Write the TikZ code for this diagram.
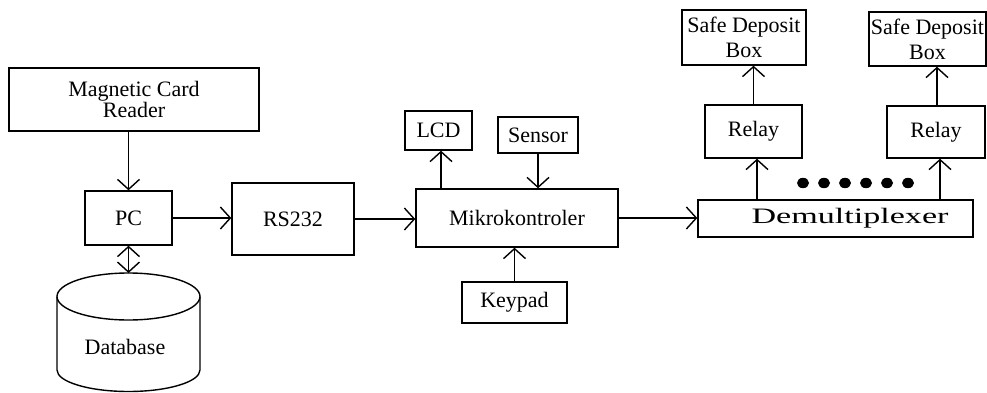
\documentclass[tikz,border=0pt]{standalone}
\usepackage{fontspec}
\usepackage{graphicx}
\setmainfont{Liberation Serif}
\usetikzlibrary{arrows.meta}

\tikzset{
  block/.style={draw, line width=1.4pt, rectangle, inner sep=0pt, align=center,
    font=\fontsize{22}{21.5}\selectfont},
  tallblock/.style={block, font=\fontsize{22}{25}\selectfont},
  link/.style={line width=1.4pt, ->},
  link2/.style={line width=1.4pt, <->},
  >={Straight Barb[length=10pt,width=22pt,line width=1.4pt]}
}

\begin{document}
\begin{tikzpicture}[x=1pt,y=1pt]
  % canvas
  \fill[white] (0,0) rectangle (987,392);
  \useasboundingbox (0,0) rectangle (987,392);

  % blocks
  \node[block, minimum width=250pt, minimum height=63pt] (mcr) at (134,292.5) {Magnetic Card\\Reader};
  \node[block, minimum width=87pt, minimum height=54pt] (pc) at (128.5,174) {PC};
  \node[block, minimum width=122pt, minimum height=72pt] (rs) at (293,173) {RS232};
  \node[block, minimum width=202pt, minimum height=58pt] (mk) at (517,174) {Mikrokontroler};
  \node[block, minimum width=67pt, minimum height=39pt] (lcd) at (438.5,261.5) {LCD};
  \node[block, minimum width=80pt, minimum height=36pt] (sensor) at (538,257) {Sensor};
  \node[block, minimum width=105pt, minimum height=41pt] (keypad) at (514.5,89.5) {Keypad};
  \node[block, minimum width=275pt, minimum height=37pt] (demux) at (835.5,173.5)
    {\hspace*{29pt}\scalebox{1.55}[1]{Demultiplexer}};
  \node[block, minimum width=97pt, minimum height=53pt] (relayA) at (753.5,260.5) {Relay};
  \node[block, minimum width=98pt, minimum height=52pt] (relayB) at (936,260) {Relay};
  \node[tallblock, minimum width=124pt, minimum height=55pt] (boxA) at (744,354.5) {Safe Deposit\\Box};
  \node[tallblock, minimum width=117pt, minimum height=54pt] (boxB) at (927.5,353) {Safe Deposit\\Box};

  % database cylinder
  \draw[line width=1.4pt] (128.5,95.5) ellipse [x radius=71.5pt, y radius=23.5pt];
  \draw[line width=1.4pt] (57,95.5) -- (57,22) arc[start angle=180, end angle=360, x radius=71.5pt, y radius=21.5pt] -- (200,95.5);
  \coordinate (dbtop) at (128.5,119);
  \node[font=\fontsize{22}{21}\selectfont] (db) at (125,45) {Database};

  % connections
  \draw[link] (pc.north |- mcr.south) -- (pc.north);
  \draw[link2] (pc.south) -- (dbtop);
  \draw[link] (pc.east) -- (pc.east -| rs.west);
  \draw[link] (rs.east) -- (rs.east -| mk.west);
  \draw[link] ([xshift=2.5pt]lcd.south |- mk.north) -- ([xshift=2.5pt]lcd.south);
  \draw[link] (sensor.south) -- (sensor.south |- mk.north);
  \draw[link] (keypad.north) -- (keypad.north |- mk.south);
  \draw[link] (mk.east) -- (mk.east -| demux.west);
  \draw[link] ([xshift=3.5pt]relayA.south |- demux.north) -- ([xshift=3.5pt]relayA.south);
  \draw[link] (relayA.north) -- (relayA.north |- boxA.south);
  \draw[link] ([xshift=4pt]relayB.south |- demux.north) -- ([xshift=4pt]relayB.south);
  \draw[link] ([xshift=1pt]relayB.north) -- ([xshift=1pt]relayB.north |- boxB.south);

  % ellipsis dots between the relay channels
  \foreach \i in {0,...,5}
    \fill (803+21*\i,209) ellipse [x radius=6pt, y radius=5.2pt];
\end{tikzpicture}
\end{document}
